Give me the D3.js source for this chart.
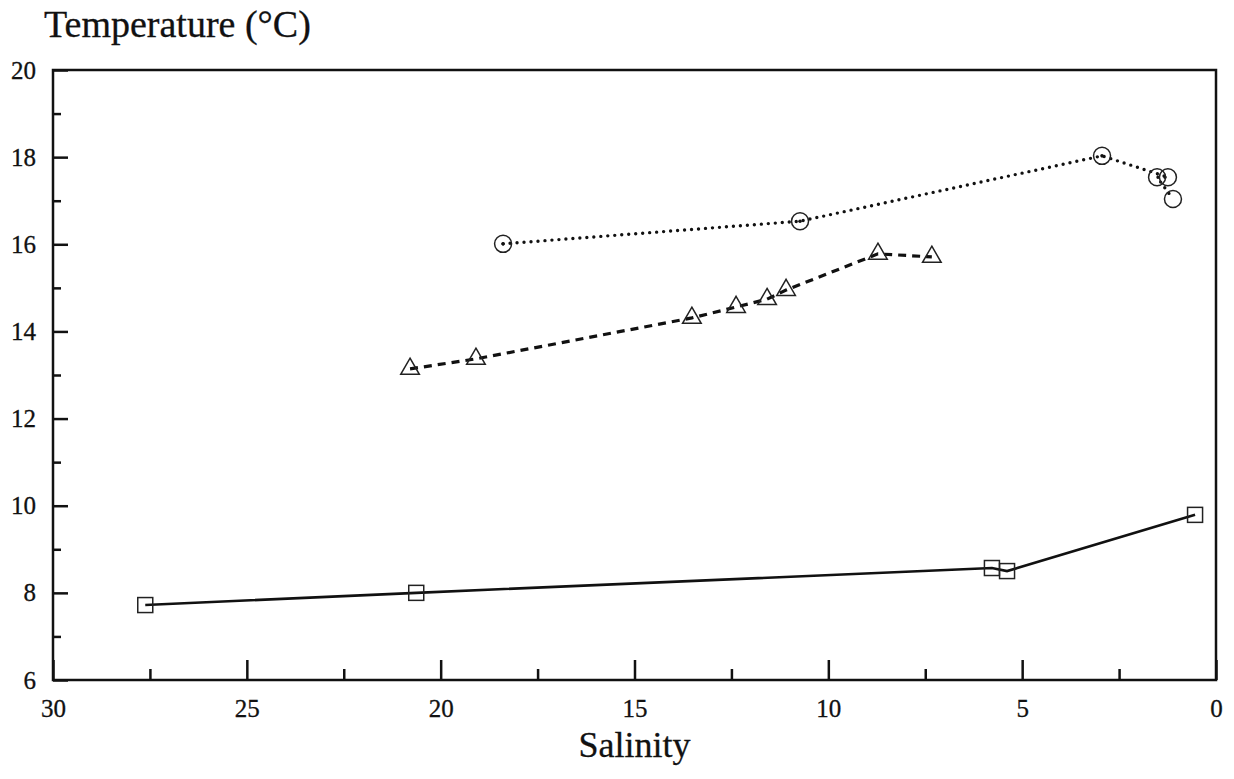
<!DOCTYPE html>
<html>
<head>
<meta charset="utf-8">
<script src="https://cdn.jsdelivr.net/npm/d3@7"></script>
<style>
  body { margin: 0; background: #fff; }
  svg { font-family: "Liberation Serif", "DejaVu Serif", serif; }
  .tick text { font-size: 25px; fill: #111; stroke: #111; stroke-width: 0.3px; }
  .axis-label { font-size: 36px; fill: #111; stroke: #111; stroke-width: 0.3px; }
  .title { font-size: 38px; fill: #111; stroke: #111; stroke-width: 0.3px; }
</style>
</head>
<body>
<svg width="1234" height="779"></svg>
<script>
// salinity / temperature readings, one array per series
const squareSal = [27.62, 20.63, 5.78, 5.39, 0.54];
const squareTemp = [7.72, 8.0, 8.57, 8.5, 9.79];

const triangleSal = [20.79, 19.09, 13.52, 12.38, 11.58, 11.09, 8.72, 7.33];
const triangleTemp = [13.14, 13.37, 14.31, 14.56, 14.74, 14.95, 15.78, 15.71];

const circleSal = [18.39, 10.73, 2.94, 1.24, 1.52, 1.11];
const circleTemp = [16.01, 16.53, 18.03, 17.54, 17.54, 17.04];

const xTicks = [30, 25, 20, 15, 10, 5, 0];
const xMinor = [27.5, 22.5, 17.5, 12.5, 7.5, 2.5];
const yTicks = [6, 8, 10, 12, 14, 16, 18, 20];
const yMinor = [7, 9, 11, 13, 15, 17, 19];

const svg = d3.select('svg');
const width = parseInt(svg.attr('width'));
const height = parseInt(svg.attr('height'));

const margin = { top: 70, right: 18, bottom: 99, left: 53 };
const innerWidth = width - margin.left - margin.right;
const innerHeight = height - margin.top - margin.bottom;

const xScale = d3.scaleLinear().domain([30, 0]).range([0, innerWidth]);
const yScale = d3.scaleLinear().domain([6, 20]).range([innerHeight, 0]);

const g = svg.append('g')
  .attr('transform', `translate(${margin.left},${margin.top})`);

// frame
g.append('rect')
  .attr('width', innerWidth)
  .attr('height', innerHeight)
  .attr('fill', 'none')
  .attr('stroke', '#111')
  .attr('stroke-width', 2.5);

const xAxisG = g.append('g')
  .attr('transform', `translate(0,${innerHeight})`)
  .call(d3.axisBottom(xScale).tickValues(xTicks).tickSize(-20).tickPadding(19).tickFormat(d3.format('d')));
const xMinorG = g.append('g')
  .attr('transform', `translate(0,${innerHeight})`)
  .call(d3.axisBottom(xScale).tickValues(xMinor).tickSize(-11).tickFormat(''));

const yAxisG = g.append('g')
  .call(d3.axisLeft(yScale).tickValues(yTicks).tickSize(-15).tickPadding(17));
const yMinorG = g.append('g')
  .call(d3.axisLeft(yScale).tickValues(yMinor).tickSize(-8).tickFormat(''));

[xAxisG, xMinorG, yAxisG, yMinorG].forEach(a => {
  a.select('.domain').remove();
  a.selectAll('line').attr('stroke', '#111').attr('stroke-width', 2.5);
  a.attr('font-family', null).attr('font-size', null);
});

g.append('text')
  .attr('class', 'axis-label')
  .attr('x', innerWidth / 2)
  .attr('y', innerHeight + 77)
  .attr('text-anchor', 'middle')
  .text('Salinity');

svg.append('text')
  .attr('class', 'title')
  .attr('x', 44)
  .attr('y', 37)
  .text('Temperature (°C)');

const line = d3.line()
  .x(d => xScale(d[0]))
  .y(d => yScale(d[1]));

const squares = d3.zip(squareSal, squareTemp);
const triangles = d3.zip(triangleSal, triangleTemp);
const circles = d3.zip(circleSal, circleTemp);

g.append('path').datum(squares)
  .attr('d', line)
  .attr('fill', 'none')
  .attr('stroke', '#111')
  .attr('stroke-width', 2.6);

g.append('path').datum(triangles)
  .attr('d', line)
  .attr('fill', 'none')
  .attr('stroke', '#111')
  .attr('stroke-width', 3.2)
  .attr('stroke-dasharray', '8 6');

g.append('path').datum(circles)
  .attr('d', line)
  .attr('fill', 'none')
  .attr('stroke', '#111')
  .attr('stroke-width', 3.4)
  .attr('stroke-linecap', 'round')
  .attr('stroke-dasharray', '0 7');

g.selectAll('.sq').data(squares)
  .enter().append('rect')
    .attr('x', d => xScale(d[0]) - 7.5)
    .attr('y', d => yScale(d[1]) - 7.5)
    .attr('width', 15)
    .attr('height', 15)
    .attr('fill', 'none')
    .attr('stroke', '#222')
    .attr('stroke-width', 1.5);

const tri = d3.symbol().type(d3.symbolTriangle).size(150);
g.selectAll('.tri').data(triangles)
  .enter().append('path')
    .attr('transform', d => `translate(${xScale(d[0])},${yScale(d[1])})`)
    .attr('d', tri)
    .attr('fill', 'none')
    .attr('stroke', '#222')
    .attr('stroke-width', 1.5);

g.selectAll('.circ').data(circles)
  .enter().append('circle')
    .attr('cx', d => xScale(d[0]))
    .attr('cy', d => yScale(d[1]))
    .attr('r', 8.5)
    .attr('fill', 'none')
    .attr('stroke', '#222')
    .attr('stroke-width', 1.5);

g.selectAll('.dot').data(circles.slice(0, 3))
  .enter().append('circle')
    .attr('cx', d => xScale(d[0]))
    .attr('cy', d => yScale(d[1]))
    .attr('r', 1.8)
    .attr('fill', '#111');
</script>
</body>
</html>
